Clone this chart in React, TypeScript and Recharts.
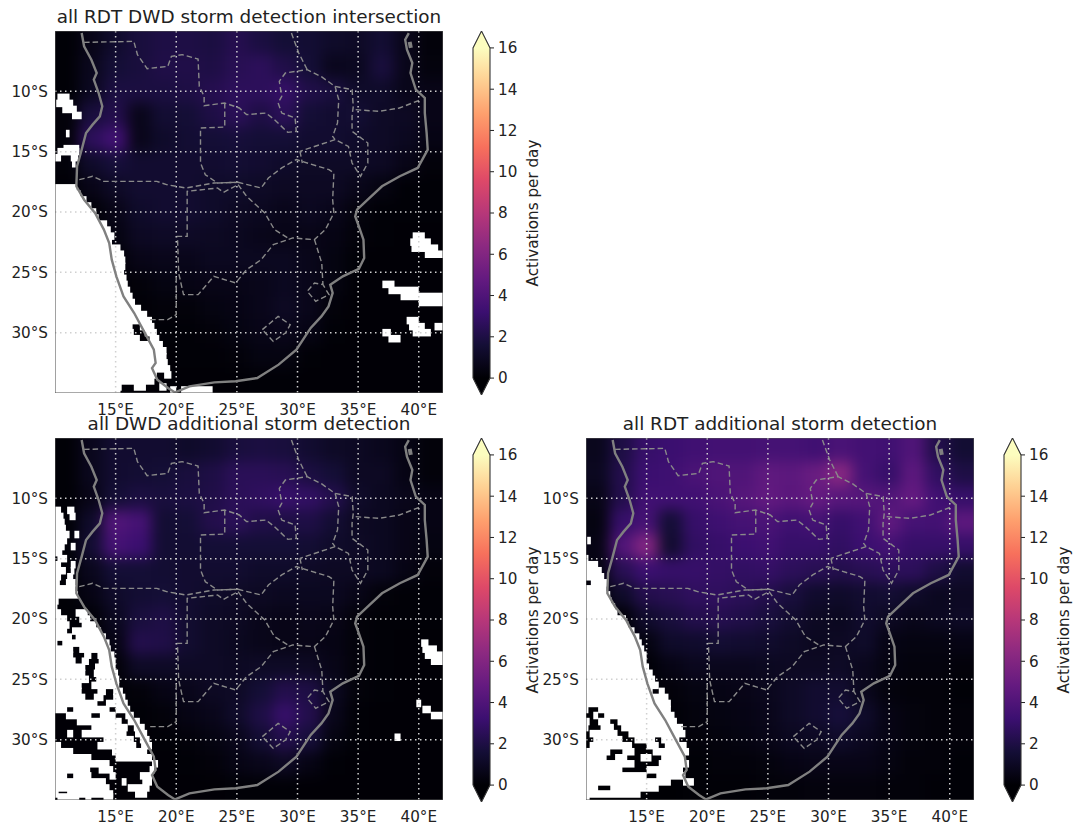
import { ScatterChart, Scatter, XAxis, YAxis } from "recharts";

// heat grid: centres of 2 degree cells, values are activations per day
const heatLons = [11, 13, 15, 17, 19, 21, 23, 25, 27, 29, 31, 33, 35, 37, 39, 41];
const heatLats = [-6, -8, -10, -12, -14, -16, -18, -20, -22, -24, -26, -28, -30, -32, -34];

const intersectionValues = [
  [0.1, 0.6, 1.3, 1.8, 2.0, 2.0, 1.9, 2.3, 1.9, 1.6, 1.5, 1.2, 1.1, 1.5, 0.7, 0.2],
  [0.1, 0.8, 1.6, 1.8, 2.1, 2.1, 2.0, 2.4, 2.6, 2.1, 1.6, 0.8, 0.9, 1.8, 0.7, 0.3],
  [0.1, 0.9, 1.9, 1.9, 1.9, 2.0, 2.3, 2.6, 2.6, 2.9, 2.1, 1.8, 1.2, 1.2, 0.7, 0.6],
  [0.2, 1.8, 2.2, 0.7, 1.5, 1.6, 2.0, 2.5, 2.0, 2.5, 1.6, 1.4, 1.5, 1.1, 1.0, 0.6],
  [0.2, 2.6, 3.4, 0.7, 1.2, 1.5, 1.6, 1.7, 1.6, 1.6, 1.4, 1.4, 1.2, 1.1, 0.9, 0.5],
  [0.2, 1.2, 1.7, 1.4, 1.4, 1.4, 1.4, 1.5, 1.4, 1.2, 1.1, 1.1, 1.1, 1.0, 0.6, 0.2],
  [0.1, 0.6, 1.1, 1.4, 1.4, 1.4, 1.2, 1.2, 1.1, 1.0, 1.0, 1.0, 0.7, 0.4, 0.1, 0.1],
  [0.1, 0.1, 0.6, 1.2, 1.4, 1.4, 1.2, 1.0, 0.9, 0.7, 0.9, 0.7, 0.3, 0.1, 0.1, 0.1],
  [0.1, 0.1, 0.4, 1.0, 1.1, 1.1, 1.0, 0.9, 0.7, 0.6, 0.6, 0.5, 0.2, 0.1, 0.05, 0.05],
  [0.05, 0.05, 0.1, 0.6, 0.7, 0.7, 0.9, 0.9, 0.9, 0.9, 0.7, 0.4, 0.1, 0.05, 0.05, 0.05],
  [0.05, 0.05, 0.05, 0.2, 0.4, 0.5, 0.6, 0.6, 0.7, 0.9, 0.7, 0.4, 0.05, 0.05, 0.05, 0.05],
  [0.05, 0.05, 0.05, 0.1, 0.2, 0.2, 0.4, 0.5, 0.7, 1.0, 0.7, 0.2, 0.05, 0.05, 0.05, 0.05],
  [0.05, 0.05, 0.05, 0.05, 0.1, 0.1, 0.2, 0.4, 0.6, 0.7, 0.5, 0.1, 0.05, 0.05, 0.05, 0.05],
  [0.05, 0.05, 0.05, 0.05, 0.05, 0.1, 0.1, 0.2, 0.4, 0.4, 0.1, 0.05, 0.05, 0.05, 0.05, 0.05],
  [0.05, 0.05, 0.05, 0.05, 0.05, 0.05, 0.05, 0.05, 0.1, 0.1, 0.05, 0.05, 0.05, 0.05, 0.05, 0.05],
];

const dwdValues = [
  [0.1, 0.8, 1.4, 1.4, 1.4, 1.2, 1.4, 1.8, 1.9, 1.8, 1.4, 1.1, 1.0, 0.8, 0.5, 0.2],
  [0.1, 0.8, 1.4, 1.5, 1.6, 1.8, 2.0, 2.5, 2.5, 2.4, 1.9, 1.6, 1.0, 1.0, 0.5, 0.2],
  [0.1, 0.6, 1.6, 1.9, 1.8, 1.9, 2.1, 2.5, 2.7, 3.0, 2.8, 2.2, 1.2, 0.9, 0.7, 0.5],
  [0.1, 1.2, 4.0, 3.6, 1.5, 1.6, 2.2, 2.5, 2.1, 2.0, 2.0, 1.5, 1.0, 0.9, 0.6, 0.5],
  [0.1, 1.5, 3.6, 3.2, 1.5, 1.5, 1.6, 1.6, 1.6, 1.6, 1.5, 1.2, 1.1, 0.9, 0.6, 0.4],
  [0.1, 0.8, 1.6, 1.6, 1.5, 1.4, 1.4, 1.4, 1.2, 1.2, 1.1, 1.0, 1.0, 0.9, 0.5, 0.2],
  [0.1, 0.5, 1.2, 1.5, 1.6, 1.4, 1.2, 1.1, 1.0, 0.9, 0.9, 0.9, 0.6, 0.2, 0.1, 0.1],
  [0.1, 0.1, 0.9, 1.8, 2.0, 1.4, 1.1, 1.0, 0.7, 0.6, 0.7, 0.6, 0.2, 0.1, 0.1, 0.1],
  [0.1, 0.1, 0.5, 2.2, 2.1, 1.4, 1.1, 0.9, 0.7, 0.6, 0.6, 0.5, 0.2, 0.1, 0.05, 0.05],
  [0.1, 0.1, 0.2, 1.1, 1.1, 1.1, 1.1, 1.0, 1.1, 1.1, 1.0, 0.6, 0.2, 0.1, 0.05, 0.05],
  [0.05, 0.05, 0.1, 0.2, 0.5, 0.7, 1.0, 1.1, 1.6, 2.2, 2.0, 0.9, 0.2, 0.1, 0.05, 0.05],
  [0.05, 0.05, 0.05, 0.1, 0.2, 0.5, 0.7, 1.2, 2.0, 3.0, 2.2, 0.7, 0.1, 0.05, 0.05, 0.05],
  [0.05, 0.05, 0.05, 0.05, 0.1, 0.2, 0.4, 0.7, 1.5, 2.2, 1.7, 0.4, 0.1, 0.05, 0.05, 0.05],
  [0.05, 0.05, 0.05, 0.05, 0.05, 0.1, 0.2, 0.5, 0.7, 1.0, 0.5, 0.1, 0.05, 0.05, 0.05, 0.05],
  [0.05, 0.05, 0.05, 0.05, 0.05, 0.05, 0.05, 0.1, 0.1, 0.1, 0.05, 0.05, 0.05, 0.05, 0.05, 0.05],
];

const rdtValues = [
  [0.8, 2.0, 3.0, 3.2, 3.4, 3.5, 3.5, 3.6, 3.6, 3.4, 3.8, 3.5, 3.4, 4.0, 2.2, 1.5],
  [0.9, 2.2, 3.2, 3.3, 3.8, 4.0, 4.0, 4.6, 4.5, 5.0, 6.2, 3.6, 3.0, 4.5, 2.8, 2.0],
  [0.6, 2.2, 3.4, 3.4, 3.4, 3.8, 4.2, 4.7, 4.4, 4.8, 4.3, 4.2, 4.0, 4.8, 3.4, 3.0],
  [0.4, 3.0, 3.6, 1.6, 3.0, 3.3, 3.6, 3.8, 3.3, 3.6, 3.0, 3.4, 4.6, 3.6, 3.5, 4.5],
  [0.5, 4.0, 6.0, 1.4, 2.8, 3.0, 3.2, 3.4, 3.0, 3.0, 2.8, 3.2, 3.5, 3.0, 3.0, 3.0],
  [0.4, 2.4, 3.2, 3.0, 3.0, 2.9, 2.8, 2.9, 2.6, 2.4, 2.2, 2.4, 2.6, 2.6, 2.0, 1.4],
  [0.2, 1.2, 2.2, 2.4, 2.7, 2.7, 2.5, 2.2, 1.8, 1.3, 1.2, 1.4, 1.5, 1.2, 0.9, 1.0],
  [0.0, 0.1, 1.3, 1.8, 2.2, 2.3, 2.1, 1.8, 1.4, 1.0, 0.9, 1.3, 1.0, 0.7, 0.9, 1.1],
  [0.0, 0.0, 0.4, 1.2, 1.3, 1.5, 1.4, 1.3, 1.1, 0.9, 1.0, 1.2, 0.5, 0.4, 0.4, 0.5],
  [0.0, 0.0, 0.1, 0.5, 0.8, 0.8, 0.8, 0.9, 1.0, 1.0, 1.1, 0.8, 0.4, 0.3, 0.3, 0.2],
  [0.0, 0.0, 0.1, 0.2, 0.4, 0.5, 0.6, 0.8, 1.1, 1.4, 1.4, 0.8, 0.3, 0.2, 0.2, 0.1],
  [0.0, 0.0, 0.0, 0.1, 0.3, 0.4, 0.5, 0.7, 1.1, 1.4, 1.7, 1.2, 0.5, 0.3, 0.2, 0.2],
  [0.0, 0.0, 0.0, 0.1, 0.2, 0.3, 0.4, 0.6, 0.9, 1.0, 1.2, 0.9, 0.5, 0.3, 0.2, 0.2],
  [0.0, 0.0, 0.0, 0.1, 0.1, 0.2, 0.2, 0.3, 0.5, 0.6, 0.6, 0.6, 0.4, 0.2, 0.2, 0.1],
  [0.0, 0.0, 0.0, 0.0, 0.1, 0.1, 0.1, 0.2, 0.2, 0.3, 0.3, 0.3, 0.2, 0.2, 0.1, 0.1],
];

// no-data (white) runs: [lat, lon from, lon to], 0.5 degree rows
const intersectionMask = [
  [-10.5, 10.2, 11.2], [-11, 10.1, 11.5], [-11.5, 10.6, 11.8], [-12, 11.4, 12.2], [-13.5, 10.9, 11.2],
  [-14.75, 10.7, 12], [-15, 10.2, 12], [-15.5, 10, 10.5], [-15.5, 11.3, 11.9], [-16, 11.4, 11.7],
  [-18, 10, 11.8], [-18.5, 10, 12.1], [-19, 10, 12.6], [-19.5, 10, 13], [-20, 10, 13.4], [-20.5, 10, 13.6],
  [-21, 10, 14.3], [-21.5, 10, 14.6], [-22, 10, 14.9], [-22.5, 10, 14.7], [-23, 10, 15.4], [-23.5, 10, 15.7],
  [-24, 10, 15.8], [-24.5, 10, 15.8], [-25, 10, 15.7], [-25.5, 10, 15.9], [-26, 10, 16], [-26.5, 10, 16.2],
  [-27, 10, 16.4], [-27.5, 10, 16.6], [-28, 10, 17.1], [-28.5, 10, 17.6], [-29, 10, 18],
  [-29.5, 10, 16.4], [-29.5, 17, 18.2], [-30, 10, 16.5], [-30, 17.4, 18.4], [-30.5, 10, 17], [-30.5, 17.8, 18.6],
  [-31, 10, 18.9], [-31.5, 10, 19.2], [-32, 10, 19.2], [-32.5, 10, 19.3], [-33, 10, 19.5],
  [-33.5, 10, 18.4], [-33.5, 19, 19.6], [-34, 10, 18.2], [-34.5, 10, 15.5], [-34.5, 16.5, 17.5], [-34.5, 18.6, 19.2],
  [-34.75, 10, 15.4], [-34.75, 19.5, 20], [-34.75, 20.4, 23],
  [-22, 39.5, 40.5], [-22.5, 39.3, 41], [-23, 39.4, 41.6], [-23.5, 40.5, 42],
  [-26, 37, 38], [-26.5, 37.5, 40], [-27, 38.5, 42], [-27.5, 40, 42],
  [-29, 39, 40], [-29.5, 39.2, 40.5], [-29.5, 41.3, 42], [-30, 37, 37.7], [-30, 39.5, 41], [-30.5, 37.5, 38.5],
];

const dwdMask = [
  [-11, 10, 10.5], [-11, 11, 11.6], [-11.5, 10, 10.7], [-11.5, 11.2, 11.7], [-12, 10, 10.8], [-12.5, 10, 10.9],
  [-13, 10, 11.2], [-13, 11.6, 12], [-13.5, 10, 11], [-14, 10, 10.8], [-14, 11.3, 11.7], [-14.5, 10, 10.6],
  [-15, 10.2, 11], [-15.5, 10, 10.5], [-15.5, 11.3, 11.7], [-16, 10, 10.9], [-16, 11.3, 11.6],
  [-16.5, 10, 10.5], [-16.5, 11, 11.5], [-17, 10, 10.4], [-17, 10.9, 11.7], [-17.5, 10, 11.7], [-18, 10, 11.9],
  [-18.5, 10, 10.3], [-19, 10, 10.2], [-19.5, 10, 10.5], [-19.5, 11.7, 12.7], [-20, 10, 11], [-20, 12, 12.9],
  [-20.5, 10, 11.2], [-20.5, 12.2, 13.4], [-21, 10, 11], [-21, 11.4, 13.8], [-21.5, 10, 11.4], [-21.5, 11.7, 14.2],
  [-22, 10, 10.2], [-22, 10.6, 14.5], [-22.5, 10, 11.5], [-22.5, 12, 14.6], [-23, 10, 11.5], [-23, 12.4, 13], [-23, 13.5, 14.9],
  [-23.5, 10, 11.7], [-23.5, 12.2, 12.8], [-23.5, 13.6, 15], [-24, 10, 12.5], [-24, 13.3, 15], [-24.5, 10, 12.5], [-24.5, 13.2, 15.2],
  [-25, 10, 12.8], [-25, 13.4, 15.3], [-25.5, 10, 12.2], [-25.5, 13, 15.3], [-26, 10, 12.2], [-26, 13.5, 14.2], [-26, 14.8, 15.6],
  [-26.5, 10, 12.5], [-26.5, 13.2, 14], [-26.5, 14.8, 15.8], [-27, 10, 13.5], [-27, 14.2, 16], [-27.5, 10, 11], [-27.5, 11.5, 14.5], [-27.5, 15, 16.2],
  [-28, 10.9, 13], [-28, 13.7, 15], [-28, 15.8, 16.5], [-28.5, 11.8, 15.5], [-28.5, 16, 17], [-29, 13, 16], [-29, 16.5, 17.4],
  [-29.5, 11, 11.5], [-29.5, 12.2, 15.9], [-29.5, 16.6, 17.6], [-30, 14, 16.5], [-30, 17, 17.8], [-30.5, 10, 10.5], [-30.5, 13.5, 16.7], [-30.5, 17.1, 18],
  [-31, 10, 11.5], [-31, 14.7, 17.6], [-31.5, 10, 13], [-31.5, 15, 18], [-32, 10, 14.5], [-32, 18, 18.5],
  [-32.5, 10, 12.9], [-32.5, 13.6, 14.8], [-32.5, 17.8, 18.2], [-33, 10, 11], [-33, 11.5, 13], [-33, 14.5, 15], [-33, 17, 18],
  [-33.5, 10, 14.2], [-33.5, 15.5, 15.9], [-33.5, 17.2, 18], [-34, 10, 14.5], [-34, 16, 17.8], [-34.5, 10, 10.3], [-34.5, 11, 14.8], [-34.5, 16.6, 17.6],
  [-34.75, 10.2, 12], [-34.75, 12.5, 13], [-34.75, 14, 14.8],
  [-22, 40.2, 40.8], [-22.5, 40.3, 41.5], [-23, 40.5, 42], [-23.5, 41, 42], [-27, 39.8, 40.2], [-27.5, 40.3, 41], [-28, 41, 42], [-29.8, 38, 38.5],
];

const rdtMask = [
  [-13.5, 10.1, 10.4], [-15, 10, 10.2], [-15.5, 10, 11], [-16, 10, 11.3], [-16.5, 10, 11.5], [-17, 10.4, 11.8], [-17.5, 10, 11.7],
  [-18, 10, 12], [-18.5, 10, 12.1], [-19, 10, 12.4], [-19.5, 10, 12.6], [-20, 10, 13.3], [-20.5, 10, 13.5], [-21, 10, 14],
  [-21.5, 10, 14.4], [-22, 10, 14.6], [-22.5, 10, 14.8], [-23, 10, 15], [-23.5, 10, 15], [-24, 10, 15.2], [-24.5, 10, 15.5],
  [-25, 10, 15.7], [-25.5, 10, 16], [-26, 10, 15.5], [-26, 16, 16.5], [-26.5, 10, 16.8], [-27, 10, 17],
  [-27.5, 10, 10.2], [-27.5, 11, 17], [-28, 10.6, 11], [-28, 11.5, 17.3], [-28.5, 10, 10.3], [-28.5, 11, 12], [-28.5, 12.6, 17.5],
  [-29, 10, 10.2], [-29, 11.2, 12.3], [-29, 12.9, 18], [-29.5, 10.3, 12.6], [-29.5, 13.5, 18.2], [-30, 10.6, 13], [-30, 14, 15.7], [-30, 16.2, 17.7],
  [-30.5, 10.3, 13.8], [-30.5, 15, 16], [-30.5, 16.5, 18.3], [-31, 10, 12], [-31, 13, 14], [-31, 15.5, 18.5],
  [-31.5, 10, 11.7], [-31.5, 12.4, 13.4], [-31.5, 14.5, 15.4], [-31.5, 16.2, 18.2], [-32, 10, 14], [-32, 16, 18.5], [-32.5, 10, 13], [-32.5, 15, 18],
  [-33, 10, 15], [-33, 15.8, 18.2], [-33.5, 10, 17], [-33.5, 18, 18.9], [-34, 10, 11], [-34, 12, 16], [-34.5, 10, 14.5], [-34.75, 10, 10.3],
];

// coastline and borders as [lon, lat]
const coastline = [
  [12.2, -5.17], [12.4, -6.27], [13, -7.38], [13.44, -8.48], [13.2, -9.03], [13.6, -10.14], [13.9, -11.24], [13.7, -12.07],
  [13.1, -12.76], [12.56, -13.45], [12.2, -14.83], [11.82, -16.2], [11.76, -17.87], [12.4, -18.98], [13.3, -20.08],
  [14.03, -21.46], [14.47, -22.57], [14.68, -23.95], [15.06, -25.33], [15.65, -26.99], [16.53, -28.37], [17.26, -29.75],
  [18.15, -31.41], [18.3, -32.5], [18, -32.93], [18.44, -33.9], [19.32, -34.59], [19.9, -34.95], [21.09, -34.45],
  [23.15, -34.12], [24.9, -34.03], [26.68, -33.76], [28.44, -32.65], [29.91, -31.41], [31.09, -29.61], [31.97, -28.65],
  [32.56, -27.82], [32.9, -26.71], [32.7, -26.02], [33.74, -25.33], [35.06, -24.72], [35.5, -23.81], [35.44, -22.29],
  [35.06, -21.19], [34.76, -20.36], [34.91, -19.81], [35.79, -18.98], [36.97, -17.87], [38.44, -17.04], [39.91, -16.35],
  [40.74, -14.83], [40.65, -13.45], [40.5, -11.8], [40.5, -10.55], [39.76, -9.86], [39.32, -8.48], [39.47, -7.65],
  [39.03, -6.55], [38.88, -5.72], [39.18, -5.17],
];

const borderLines = [
  [[12.4, -5.94], [16.5, -5.86], [16.8, -6.96], [17.6, -8.12], [19.3, -7.93], [19.6, -7.1], [20.5, -6.96], [21.8, -7.32], [21.9, -9.59],
    [22.3, -10.41], [22.3, -11.19], [24, -10.97], [25.2, -11.38], [25.8, -11.93], [27.4, -11.8], [28.1, -12.35], [29.2, -13.4], [29.9, -13.31],
    [29.8, -12.21], [28.7, -11.8], [28.4, -10.97], [28.7, -10.41], [28.5, -9.17], [29, -8.48], [30.8, -8.2], [32, -8.81], [33.1, -9.59],
    [34.5, -9.86], [34.6, -11.24], [34.5, -12.07], [34.5, -13.31], [35.8, -14.28], [35.8, -15.94], [35.2, -17.04], [34.5, -15.94],
    [34.2, -14.56], [33.1, -14], [30.2, -14.97]],
  [[33.1, -9.59], [33.4, -10.69], [33.3, -12.62], [32.9, -13.73], [33.1, -14]],
  [[34.8, -11.52], [36.7, -11.66], [38.4, -11.38], [40.2, -10.69]],
  [[24, -10.97], [24, -12.96], [22, -13.04], [22, -15.94], [22.4, -16.91], [23.4, -17.6], [25.1, -17.54]],
  [[12, -17.32], [13.1, -17.04], [14, -17.46], [18.4, -17.46], [19.2, -17.73], [20.8, -18.01], [23.1, -17.6], [25.1, -17.54], [27, -18.01],
    [27.6, -17.18], [28.7, -16.35], [29.9, -15.66], [32.6, -16.49], [33, -16.77], [32.9, -18.98], [33, -20.08], [32.3, -21.46], [31.4, -22.29],
    [29.6, -22.15], [28, -22.71], [27, -23.95], [25.8, -24.78], [24.9, -25.88], [23.1, -25.33], [21.8, -26.85], [20.6, -26.85], [20.2, -25.06],
    [20.1, -22.02], [20.9, -22.02], [20.9, -18.29], [23.4, -18.01], [23.9, -18.37], [25.1, -17.73]],
  [[25.1, -17.73], [25.8, -18.7], [27.3, -20.08], [28.1, -21.46], [29.2, -22.15]],
  [[31.4, -22.29], [32, -24.23], [32.1, -26.02], [31.4, -25.88], [30.8, -26.57], [31.5, -27.4], [32.6, -26.85], [32.1, -26.02]],
  [[27.1, -29.75], [28.4, -28.65], [29.4, -29.34], [29, -30.03], [28, -30.72], [27.1, -29.75]],
  [[17.85, -28.92], [19.3, -28.92], [20, -28.51], [20, -25.06]],
  [[29.5, -5.17], [30.1, -6.82], [30.8, -8.2]],
  [[30.2, -14.97], [30.4, -15.94]],
];

const lakes = [[[39.25, -5.9], [39.35, -6.4]]];

const lonTicks = [15, 20, 25, 30, 35, 40];
const latTicks = [-10, -15, -20, -25, -30];
const barTicks = [0, 2, 4, 6, 8, 10, 12, 14, 16];
// colorbar outline with its two extension arrows, [x, value]
const barOutline = [[0, 0], [0.5, -0.82], [1, 0], [1, 16], [0.5, 16.82], [0, 16], [0, 0]];

const MAGMA = ["#000004", "#140e36", "#3b0f70", "#641a80", "#8c2981", "#b73779", "#de4968", "#f7705c", "#fe9f6d", "#fecf92", "#fcfdbf"];
const VMAX = 16;
const FONT = "DejaVu Sans";
const TEXT = "#222";
const PX_X = 388 / 32;
const PX_Y = 362 / 30;
const PLOT_W = 388;
const PLOT_H = 362;
const TICK_SIZE = 15.2;

function magma(v: number) {
  const t = (Math.min(Math.max(v, 0), VMAX) / VMAX) * (MAGMA.length - 1);
  const i = Math.min(Math.floor(t), MAGMA.length - 2);
  const f = t - i;
  const hex = (s: string, k: number) => parseInt(s.slice(1 + k * 2, 3 + k * 2), 16);
  const ch = [0, 1, 2].map((k) => Math.round(hex(MAGMA[i], k) * (1 - f) + hex(MAGMA[i + 1], k) * f));
  return `rgb(${ch.join(",")})`;
}

const toPts = (line: number[][]) => line.map(([lon, lat]) => ({ lon, lat }));
const NoDot = () => null;

// edge cells run past the frame so the blur does not fade out at the border
function HeatCell(props: any) {
  const { cx, cy, payload } = props;
  const halfW = PX_X + 0.5;
  const halfH = PX_Y + 0.5;
  const pad = 30;
  const x0 = cx - halfW - (payload.lon === heatLons[0] ? pad : 0);
  const x1 = cx + halfW + (payload.lon === heatLons[heatLons.length - 1] ? pad : 0);
  const y0 = cy - halfH - (payload.lat === heatLats[0] ? pad : 0);
  const y1 = cy + halfH + (payload.lat === heatLats[heatLats.length - 1] ? pad : 0);
  return <rect x={x0} y={y0} width={x1 - x0} height={y1 - y0} fill={magma(payload.value)} />;
}

function MaskCell(props: any) {
  const { cx, cy, payload } = props;
  const w = payload.span * PX_X;
  const h = PX_Y * 0.5 + 1.5;
  return <rect x={cx - w / 2} y={cy - h / 2} width={w} height={h} fill="#fff" />;
}

function PathLine({ pts, stroke, width, dash }: { pts: number[][]; stroke: string; width: number; dash?: string }) {
  return (
    <Scatter
      data={toPts(pts)}
      dataKey="lat"
      isAnimationActive={false}
      shape={NoDot}
      legendType="none"
      line={{ stroke, strokeWidth: width, strokeDasharray: dash, fill: "none" }}
      lineType="joint"
    />
  );
}

function MapPanel({ title, left, top, values, mask }: { title: string; left: number; top: number; values: number[][]; mask: number[][] }) {
  const heat = heatLats.flatMap((lat, r) => heatLons.map((lon, c) => ({ lon, lat, value: values[r][c] })));
  const maskCells = mask.map(([lat, a, b]) => ({ lat, lon: (a + b) / 2, span: b - a }));
  const frame = [[10, -5], [42, -5], [42, -35], [10, -35], [10, -5]];
  return (
    <div style={{ position: "absolute", left, top, width: 448, height: 423 }}>
      <div style={{ position: "absolute", left: 55, width: PLOT_W, top: 7, textAlign: "center", whiteSpace: "nowrap", fontFamily: FONT, fontSize: 18.4, lineHeight: "20px", color: TEXT }}>
        {title}
      </div>
      <div style={{ position: "absolute", left: 0, top: 0 }}>
        <ScatterChart width={448} height={423} margin={{ top: 31, right: 5, bottom: 0, left: 0 }}>
          <defs>
            <clipPath id="plotClip">
              <rect x={55} y={31} width={PLOT_W} height={PLOT_H} />
            </clipPath>
          </defs>
          <XAxis
            type="number"
            dataKey="lon"
            domain={[10, 42]}
            ticks={lonTicks}
            tickFormatter={(v) => `${v}°E`}
            allowDataOverflow
            axisLine={false}
            tickLine={false}
            tickMargin={5}
            height={30}
            interval={0}
            tick={{ fontFamily: FONT, fontSize: TICK_SIZE, fill: TEXT }}
          />
          <YAxis
            type="number"
            dataKey="lat"
            domain={[-35, -5]}
            ticks={latTicks}
            tickFormatter={(v) => `${-v}°S`}
            allowDataOverflow
            axisLine={false}
            tickLine={false}
            tickMargin={1}
            width={55}
            interval={0}
            tick={{ fontFamily: FONT, fontSize: TICK_SIZE, fill: TEXT }}
          />
          <Scatter data={heat} dataKey="lat" className="heatLayer" shape={HeatCell} isAnimationActive={false} legendType="none" />
          <Scatter data={maskCells} dataKey="lat" className="maskLayer" shape={MaskCell} isAnimationActive={false} legendType="none" />
          {lonTicks.map((lon) => PathLine({ pts: [[lon, -5], [lon, -35]], stroke: "#d0d0d0", width: 1.5, dash: "1.5 3.5" }))}
          {latTicks.map((lat) => PathLine({ pts: [[10, lat], [42, lat]], stroke: "#d0d0d0", width: 1.5, dash: "1.5 3.5" }))}
          {borderLines.map((b) => PathLine({ pts: b, stroke: "#8a8a8a", width: 1.4, dash: "5.5 3" }))}
          {PathLine({ pts: coastline, stroke: "#808080", width: 2.4 })}
          {lakes.map((b) => PathLine({ pts: b, stroke: "#808080", width: 4 }))}
          {PathLine({ pts: frame, stroke: "#555", width: 1.1 })}
        </ScatterChart>
      </div>
    </div>
  );
}

function ColorBar({ left, top }: { left: number; top: number }) {
  const stops = MAGMA.map((c, i) => ({ c, v: (i / (MAGMA.length - 1)) * VMAX }));
  const pts = barOutline.map(([x, value]) => ({ x, value }));
  return (
    <div style={{ position: "absolute", left, top }}>
      <ScatterChart width={92} height={384} margin={{ top: 10, right: 0, bottom: 10, left: 10 }}>
        <defs>
          <linearGradient id="magmaBar" x1="0" y1="1" x2="0" y2="0">
            {stops.map((s) => (
              <stop key={s.v} offset={(s.v + 0.82) / 17.64} stopColor={s.c} />
            ))}
          </linearGradient>
        </defs>
        <XAxis type="number" dataKey="x" domain={[0, 1]} hide />
        <YAxis
          type="number"
          dataKey="value"
          orientation="right"
          domain={[-0.82, 16.82]}
          ticks={barTicks}
          allowDataOverflow
          axisLine={false}
          interval={0}
          width={65}
          tickSize={4}
          tickMargin={4}
          stroke="#222"
          tick={{ fontFamily: FONT, fontSize: TICK_SIZE, fill: TEXT }}
          label={{ value: "Activations per day", angle: -90, position: "insideRight", offset: 22, style: { fontFamily: FONT, fontSize: 15.2, fill: TEXT, textAnchor: "middle" } }}
        />
        <Scatter
          data={pts}
          dataKey="value"
          shape={NoDot}
          isAnimationActive={false}
          legendType="none"
          line={{ stroke: "#333", strokeWidth: 1.1, fill: "url(#magmaBar)" }}
          lineType="joint"
        />
      </ScatterChart>
    </div>
  );
}

export default function App() {
  return (
    <div style={{ position: "absolute", left: 0, top: 0, width: 1073, height: 825, background: "#fff", overflow: "hidden" }}>
      <style>{`
        .heatLayer { filter: blur(7px); clip-path: url(#plotClip); }
        .maskLayer { clip-path: url(#plotClip); }
      `}</style>
      <MapPanel title="all RDT DWD storm detection intersection" left={0} top={0} values={intersectionValues} mask={intersectionMask} />
      <MapPanel title="all DWD additional storm detection" left={0} top={407} values={dwdValues} mask={dwdMask} />
      <MapPanel title="all RDT additional storm detection" left={531} top={407} values={rdtValues} mask={rdtMask} />
      <ColorBar left={463} top={21} />
      <ColorBar left={463} top={428} />
      <ColorBar left={994} top={428} />
    </div>
  );
}
